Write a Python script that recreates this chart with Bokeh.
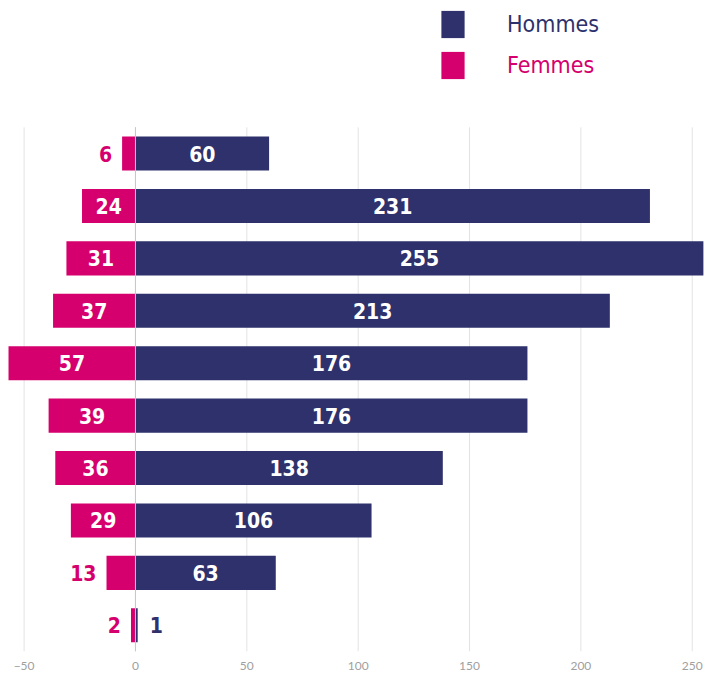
from bokeh.plotting import figure
from bokeh.models import ColumnDataSource, Range1d, FixedTicker, Legend, LegendItem
from bokeh.core.properties import value
from bokeh.embed import file_html
from bokeh.resources import INLINE

# ---- data ----
rows = list(range(10))
hommes = [60, 231, 255, 213, 176, 176, 138, 106, 63, 1]
femmes = [6, 24, 31, 37, 57, 39, 36, 29, 13, 2]
ticks = [-50, 0, 50, 100, 150, 200, 250]

NAVY = "#2E316B"
MAGENTA = "#D5006D"
COND = "DejaVu Sans Condensed"
INSIDE_MIN = 20

p = figure(width=706, height=676, output_backend="svg", toolbar_location=None,
           x_range=Range1d(-60.6, 256.4), y_range=Range1d(9.5, -2.92),
           min_border_left=0, min_border_right=0, min_border_top=0, min_border_bottom=25)
p.outline_line_color = None
p.yaxis.visible = False
p.grid.grid_line_color = None
p.xaxis.ticker = FixedTicker(ticks=ticks)
p.xaxis.axis_line_color = None
p.xaxis.major_tick_line_color = None
p.xaxis.minor_tick_line_color = None
p.xaxis.major_tick_out = 0
p.xaxis.major_tick_in = 0
p.xaxis.major_label_standoff = 10
p.xaxis.major_label_text_color = "#A0A0A0"
p.xaxis.major_label_text_font = "Lato"
p.xaxis.major_label_text_font_size = "12px"

# vertical grid lines spanning the bar rows only
gcol = ["#C8C8C8" if t == 0 else "#E3E3E3" for t in ticks]
p.segment(x0=ticks, x1=ticks, y0=rows[0] - 0.5, y1=rows[-1] + 0.5, line_color=gcol, line_width=1)

src = ColumnDataSource(dict(y=rows, h=hommes, f=[-v for v in femmes]))
rh = p.hbar(y="y", left=0, right="h", height=0.65, source=src, fill_color=NAVY, line_color=None)
rf = p.hbar(y="y", left="f", right=0, height=0.65, source=src, fill_color=MAGENTA, line_color=None)
# zero line drawn over bars
p.segment(x0=[0], x1=[0], y0=rows[0] - 0.5, y1=rows[-1] + 0.5, line_color="#C8C8C8", line_width=1)

def labels(vals, sign, color):
    xs, cols, aligns, offs = [], [], [], []
    for v in vals:
        if v >= INSIDE_MIN:
            xs.append(sign * v / 2); cols.append("white"); aligns.append("center"); offs.append(0)
        else:
            xs.append(sign * v); cols.append(color)
            aligns.append("left" if sign > 0 else "right"); offs.append(12 if sign > 0 else -10)
    return ColumnDataSource(dict(x=xs, y=rows, t=[str(v) for v in vals], c=cols, a=aligns, o=offs))

for vals, sign, color in ((hommes, 1, NAVY), (femmes, -1, MAGENTA)):
    s = labels(vals, sign, color)
    p.text(x="x", y="y", text="t", source=s, text_color="c", text_align="a", x_offset="o",
           text_baseline="middle", text_font=value(COND), text_font_style="bold",
           text_font_size="21px")

for name, r, col, yb in (("Hommes", rh, NAVY, 610), ("Femmes", rf, MAGENTA, 569)):
    lg = Legend(items=[LegendItem(label=name, renderers=[r])], location=(438, yb),
                glyph_width=29, glyph_height=34, label_standoff=40, padding=0, margin=0,
                label_text_font=COND, label_text_font_size="23px", label_text_color=col,
                background_fill_alpha=0, border_line_color=None, label_height=27)
    p.add_layout(lg, "center")

open("out.html", "w").write(file_html(p, INLINE))
